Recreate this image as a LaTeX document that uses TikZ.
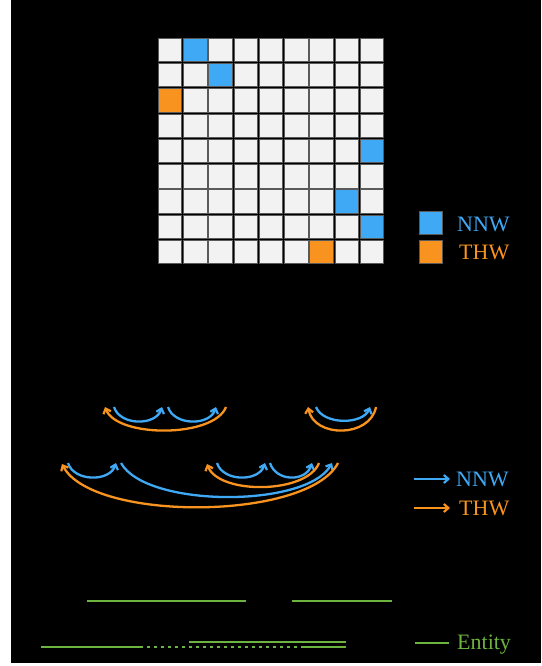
\documentclass[tikz,border=0pt]{standalone}
\usepackage{fontspec}
\setmainfont{Liberation Serif}
\usetikzlibrary{arrows.meta}
\definecolor{cblue}{HTML}{3FA9F5}
\definecolor{corange}{HTML}{F7931E}
\definecolor{cgreen}{HTML}{6DB33F}
\definecolor{ccell}{HTML}{F2F2F2}
\definecolor{cedge}{HTML}{5A5A5A}
\tikzset{
  cellbox/.style={draw=cedge,line width=0.7pt,fill=ccell},
  legbox/.style={minimum size=23pt,inner sep=0pt,line width=0.7pt},
  legtext/.style={font=\fontsize{22}{26}\selectfont,anchor=base west,inner sep=0pt},
  tipb/.style={-{Straight Barb[length=4.5pt,width=8pt,line width=2.2pt]}},
  arcb/.style={draw=cblue,line width=2.3pt,tipb},
  arco/.style={draw=corange,line width=2.3pt,tipb},
  ent/.style={draw=cgreen,line width=2.8pt},
  entdot/.style={draw=cgreen,line width=2.8pt,dash pattern=on 2.7pt off 4.3pt},
}
\begin{document}
\begin{tikzpicture}[x=1pt,y=-1pt]
\useasboundingbox (0,0) rectangle (541,666);
\fill[white] (0,0) rectangle (541,666);
\fill[black] (11,0) rectangle (541,663);
% grid
\foreach \r in {0,...,8}{
  \foreach \c in {0,...,8}{
    \path[cellbox] ({158.3+\c*25.25},{38.3+\r*25.25}) rectangle ++(23.3,23.3);
  }
}
\foreach \r/\c/\col in {0/1/cblue,1/2/cblue,2/0/corange,4/8/cblue,6/7/cblue,7/8/cblue,8/6/corange}{
  \path[draw=cedge,line width=0.7pt,fill=\col] ({158.3+\c*25.25},{38.3+\r*25.25}) rectangle ++(23.3,23.3);
}
% legend squares
\node[legbox,draw=cedge,fill=cblue] (lsb) at (431.3,223.2) {};
\node[legbox,draw=cedge,fill=corange] (lso) at (431.3,252) {};
\node[legtext,text=cblue] (ltb) at (457,231) {NNW};
\node[legtext,text=corange] (lto) at (459,259.5) {THW};
% arcs row 1
\coordinate (a1) at (114,407); \coordinate (a2) at (162,407);
\coordinate (a3) at (168,407); \coordinate (a4) at (216,407);
\coordinate (a5) at (226,407); \coordinate (a6) at (105,407);
\coordinate (a7) at (316,407); \coordinate (a8) at (370,407);
\coordinate (a9) at (376,407); \coordinate (a10) at (308,407);
\draw[arcb] (a1) .. controls +(6,19) and +(-6,19) .. (a2);
\draw[arcb] (a3) .. controls +(6,19) and +(-6,19) .. (a4);
\draw[arco] (a5) .. controls +(-12,31) and +(12,31) .. (a6);
\draw[arcb] (a7) .. controls +(7,18) and +(-7,18) .. (a8);
\draw[arco] (a9) .. controls +(-6,31) and +(6,31) .. (a10);
% arcs row 2
\coordinate (b1) at (68,463); \coordinate (b2) at (116,463);
\coordinate (b3) at (121,463); \coordinate (b4) at (332,463);
\coordinate (b5) at (338,463); \coordinate (b6) at (62,464);
\coordinate (b7) at (217,463); \coordinate (b8) at (265,463);
\coordinate (b9) at (270,463); \coordinate (b10) at (312,463);
\coordinate (b11) at (319,463); \coordinate (b12) at (207,464);
\draw[arcb] (b1) .. controls +(6,19) and +(-6,19) .. (b2);
\draw[arcb] (b3) .. controls +(25,45) and +(-25,45) .. (b4);
\draw[arco] (b5) .. controls +(-30,58) and +(30,58) .. (b6);
\draw[arcb] (b7) .. controls +(6,19) and +(-6,19) .. (b8);
\draw[arcb] (b9) .. controls +(6,19) and +(-6,19) .. (b10);
\draw[arco] (b11) .. controls +(-12,31) and +(12,31) .. (b12);
% legend arrows
\coordinate (la1) at (414,479); \coordinate (la2) at (450,479);
\coordinate (la3) at (414,508); \coordinate (la4) at (450,508);
\draw[draw=cblue,line width=2.2pt,tipb] (la1) -- (la2);
\draw[draw=corange,line width=2.2pt,tipb] (la3) -- (la4);
\node[legtext,text=cblue] (lab) at (456,486) {NNW};
\node[legtext,text=corange] (lao) at (459,515) {THW};
% entities
\coordinate (e1) at (87,601); \coordinate (e2) at (246,601);
\coordinate (e3) at (292,601); \coordinate (e4) at (392,601);
\coordinate (e5) at (41,647); \coordinate (e6) at (143,647);
\coordinate (e7) at (147,647); \coordinate (e8) at (299,647);
\coordinate (e9) at (301,647); \coordinate (e10) at (346,647);
\coordinate (e11) at (189,642); \coordinate (e12) at (346,642);
\draw[ent] (e1) -- (e2);
\draw[ent] (e3) -- (e4);
\draw[ent] (e5) -- (e6);
\draw[entdot] (e7) -- (e8);
\draw[ent] (e9) -- (e10);
\draw[ent] (e11) -- (e12);
\coordinate (le1) at (415,643); \coordinate (le2) at (449,643);
\draw[ent] (le1) -- (le2);
\node[legtext,text=cgreen] (lent) at (457,649) {Entity};
\end{tikzpicture}
\end{document}
